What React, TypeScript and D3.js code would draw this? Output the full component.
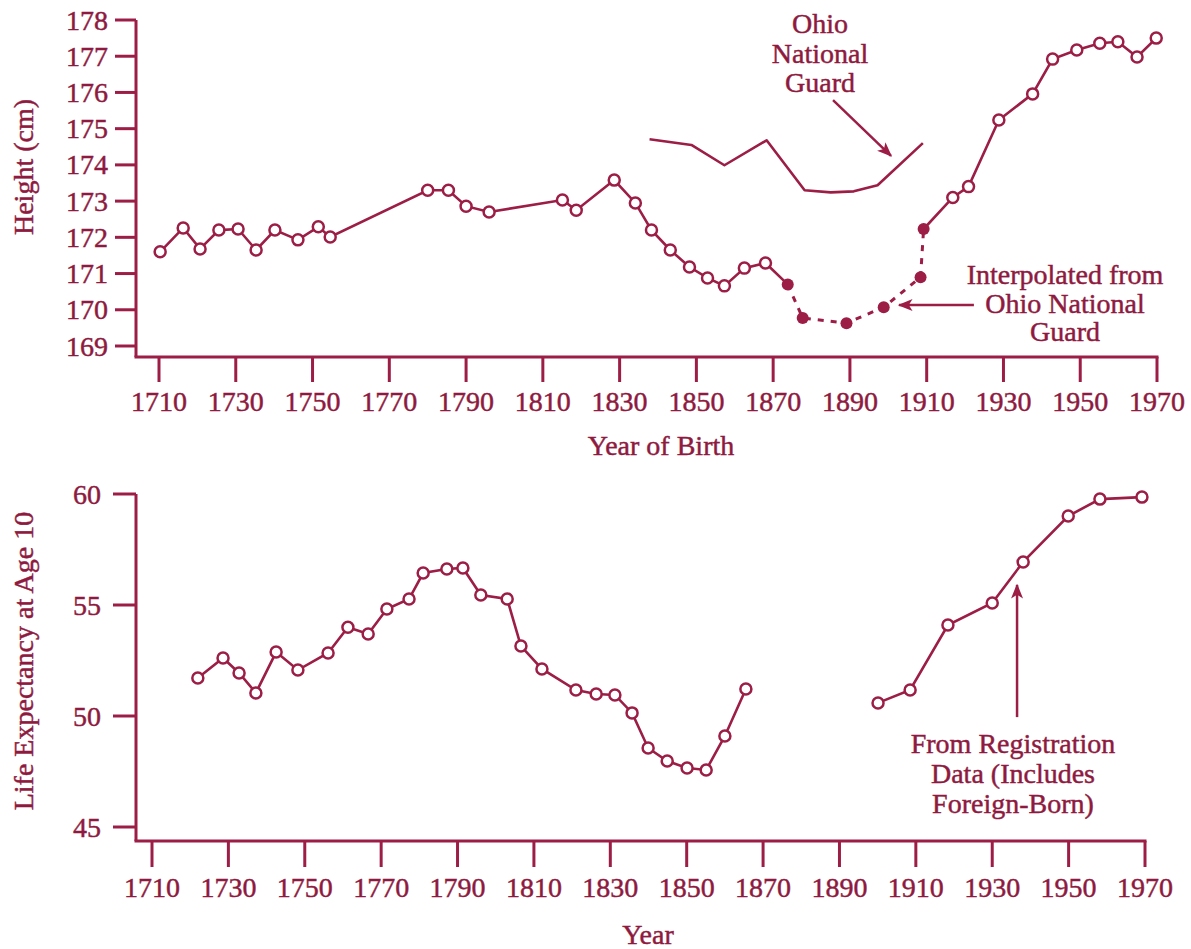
import React from "react";
import * as d3 from "d3";

// ---------- Data ----------
const yearTicks = [1710, 1730, 1750, 1770, 1790, 1810, 1830, 1850, 1870, 1890, 1910, 1930, 1950, 1970];
const heightTicks = [169, 170, 171, 172, 173, 174, 175, 176, 177, 178];
const lifeTicks = [45, 50, 55, 60];

// Height, observed (open circles), before 1870
const heightYearsA = [1710.3, 1716.3, 1720.7, 1725.6, 1730.6, 1735.3, 1740.2, 1746.2, 1751.5, 1754.6, 1780, 1785.4, 1790, 1796, 1815.1, 1818.7, 1828.6, 1834.1, 1838.3, 1843.2, 1848.2, 1852.9, 1857.3, 1862.5, 1868];
const heightValuesA = [171.6, 172.26, 171.68, 172.2, 172.23, 171.65, 172.2, 171.93, 172.29, 172.01, 173.3, 173.3, 172.86, 172.7, 173.03, 172.75, 173.58, 172.95, 172.2, 171.65, 171.18, 170.88, 170.66, 171.15, 171.29];

// Interpolated from Ohio National Guard (filled dots, dashed)
const interpYears = [1873.8, 1877.7, 1889.1, 1898.8, 1908.4, 1909.2];
const interpValues = [170.7, 169.77, 169.63, 170.07, 170.9, 172.23];

// Height, observed (open circles), after 1910
const heightYearsB = [1916.8, 1920.9, 1928.8, 1937.6, 1942.8, 1949.1, 1955.1, 1959.8, 1964.8, 1969.8];
const heightValuesB = [173.1, 173.4, 175.24, 175.96, 176.92, 177.17, 177.36, 177.4, 176.98, 177.5];

// Ohio National Guard
const ohioYears = [1837.8, 1848.7, 1857.3, 1868.3, 1878.2, 1885, 1891, 1897.2, 1909];
const ohioValues = [174.71, 174.55, 173.99, 174.68, 173.3, 173.24, 173.27, 173.44, 174.6];

// Life expectancy at age 10
const lifeYearsA = [1722, 1728.6, 1732.8, 1737.2, 1742.5, 1748.2, 1756.1, 1761.3, 1766.6, 1771.5, 1777.3, 1781, 1787.2, 1791.4, 1796.1, 1803, 1806.6, 1812.1, 1821, 1826.3, 1831.2, 1835.7, 1839.9, 1844.9, 1850.1, 1855.1, 1860, 1865.5];
const lifeValuesA = [51.71, 52.61, 51.94, 51.04, 52.88, 52.07, 52.84, 54.0, 53.69, 54.82, 55.27, 56.44, 56.62, 56.67, 55.45, 55.27, 53.15, 52.12, 51.17, 50.99, 50.95, 50.14, 48.56, 47.97, 47.66, 47.57, 49.1, 51.22];
const lifeYearsB = [1900.1, 1908.5, 1918.4, 1930, 1938.1, 1949.9, 1958.2, 1969.2];
const lifeValuesB = [50.59, 51.17, 54.1, 55.09, 56.94, 59.01, 59.77, 59.86];

const ohioLabel = ["Ohio", "National", "Guard"];
const interpLabel = ["Interpolated from", "Ohio National", "Guard"];
const regLabel = ["From Registration", "Data (Includes", "Foreign-Born)"];

// ---------- Style ----------
const COLOR = "#9c1d46";
const TEXT = "#8e1a40";
const FONT = "'Liberation Serif', 'Times New Roman', serif";

type P = [number, number];
const zip = (xs: number[], ys: number[]): P[] => xs.map((x, i) => [x, ys[i]]);

const T = (props: any) => (
  <text fontSize={28} fill={TEXT} stroke={TEXT} strokeWidth={0.45} {...props} />
);

export default function App() {
  const xTop = d3.scaleLinear().domain([1710, 1970]).range([159, 1157]);
  const yTop = d3.scaleLinear().domain([169, 178]).range([346, 20]);
  const xBot = d3.scaleLinear().domain([1710, 1970]).range([152, 1145]);
  const yBot = d3.scaleLinear().domain([45, 60]).range([827, 494]);

  const lineTop = d3.line<P>().x((d) => xTop(d[0])).y((d) => yTop(d[1]));
  const lineBot = d3.line<P>().x((d) => xBot(d[0])).y((d) => yBot(d[1]));

  const hA = zip(heightYearsA, heightValuesA);
  const hI = zip(interpYears, interpValues);
  const hB = zip(heightYearsB, heightValuesB);
  const ohio = zip(ohioYears, ohioValues);
  const lA = zip(lifeYearsA, lifeValuesA);
  const lB = zip(lifeYearsB, lifeValuesB);

  const topAxisY = 357;
  const botAxisY = 841;
  const axisX = 136;

  const r = 5.5;

  return (
    <svg
      width={1191}
      height={949}
      style={{ position: "absolute", left: 0, top: 0, background: "#fff" }}
      fontFamily={FONT}
    >
      <defs>
        <marker id="ah" viewBox="0 0 10 10" refX="9" refY="5" markerWidth="6" markerHeight="6" orient="auto-start-reverse" markerUnits="strokeWidth">
          <path d="M0,1 L10,5 L0,9 L2.5,5 z" fill={COLOR} />
        </marker>
      </defs>

      {/* ===== TOP CHART ===== */}
      <g>
        <line x1={axisX} x2={axisX} y1={yTop(178)} y2={topAxisY} stroke={COLOR} strokeWidth={3} />
        <line x1={axisX - 1.5} x2={xTop(1970) + 1.5} y1={topAxisY} y2={topAxisY} stroke={COLOR} strokeWidth={3} />
        {heightTicks.map((t) => (
          <g key={t}>
            <line x1={115} x2={axisX} y1={yTop(t)} y2={yTop(t)} stroke={COLOR} strokeWidth={3} />
            <T x={108} y={yTop(t)} dy="0.34em" textAnchor="end">{t}</T>
          </g>
        ))}
        {yearTicks.map((t) => (
          <g key={t}>
            <line x1={xTop(t)} x2={xTop(t)} y1={topAxisY} y2={382} stroke={COLOR} strokeWidth={3} />
            <T x={xTop(t)} y={411} textAnchor="middle">{t}</T>
          </g>
        ))}
        <T x={661} y={455} textAnchor="middle">Year of Birth</T>
        <T transform={`translate(33,167) rotate(-90)`} textAnchor="middle">Height (cm)</T>

        <path d={lineTop(ohio) || ""} fill="none" stroke={COLOR} strokeWidth={2.6} strokeLinejoin="round" />

        <path d={lineTop([...hA, hI[0]]) || ""} fill="none" stroke={COLOR} strokeWidth={2.6} />
        <path d={lineTop(hI) || ""} fill="none" stroke={COLOR} strokeWidth={3} strokeDasharray="6,7" />
        <path d={lineTop([hI[hI.length - 1], ...hB]) || ""} fill="none" stroke={COLOR} strokeWidth={2.6} />

        {hA.concat(hB).map((d, i) => (
          <circle key={i} cx={xTop(d[0])} cy={yTop(d[1])} r={r} fill="#fff" stroke={COLOR} strokeWidth={2.5} />
        ))}
        {hI.map((d, i) => (
          <circle key={i} cx={xTop(d[0])} cy={yTop(d[1])} r={6} fill={COLOR} />
        ))}

        {ohioLabel.map((s, i) => (
          <T key={i} x={xTop(1882.2)} y={33 + i * 29.5} textAnchor="middle">{s}</T>
        ))}
        <line x1={xTop(1885.6)} y1={yTop(175.79)} x2={xTop(1900.7)} y2={yTop(174.25)} stroke={COLOR} strokeWidth={2.5} markerEnd="url(#ah)" />

        {interpLabel.map((s, i) => (
          <T key={i} x={1065} y={284 + i * 28.5} textAnchor="middle">{s}</T>
        ))}
        <line x1={xTop(1922.3)} y1={yTop(170.13)} x2={xTop(1902.8)} y2={yTop(170.13)} stroke={COLOR} strokeWidth={2.5} markerEnd="url(#ah)" />
      </g>

      {/* ===== BOTTOM CHART ===== */}
      <g>
        <line x1={axisX} x2={axisX} y1={yBot(60)} y2={botAxisY} stroke={COLOR} strokeWidth={3} />
        <line x1={axisX - 1.5} x2={xBot(1970) + 1.5} y1={botAxisY} y2={botAxisY} stroke={COLOR} strokeWidth={3} />
        {lifeTicks.map((t) => (
          <g key={t}>
            <line x1={113} x2={axisX} y1={yBot(t)} y2={yBot(t)} stroke={COLOR} strokeWidth={3} />
            <T x={101} y={yBot(t)} dy="0.34em" textAnchor="end">{t}</T>
          </g>
        ))}
        {yearTicks.map((t) => (
          <g key={t}>
            <line x1={xBot(t)} x2={xBot(t)} y1={botAxisY} y2={867} stroke={COLOR} strokeWidth={3} />
            <T x={xBot(t)} y={897} textAnchor="middle">{t}</T>
          </g>
        ))}
        <T x={648} y={944} textAnchor="middle">Year</T>
        <T transform={`translate(33,661) rotate(-90)`} textAnchor="middle">Life Expectancy at Age 10</T>

        <path d={lineBot(lA) || ""} fill="none" stroke={COLOR} strokeWidth={2.6} />
        <path d={lineBot(lB) || ""} fill="none" stroke={COLOR} strokeWidth={2.6} />
        {lA.concat(lB).map((d, i) => (
          <circle key={i} cx={xBot(d[0])} cy={yBot(d[1])} r={r} fill="#fff" stroke={COLOR} strokeWidth={2.5} />
        ))}

        {regLabel.map((s, i) => (
          <T key={i} x={1013} y={753 + i * 30} textAnchor="middle">{s}</T>
        ))}
        <line x1={xBot(1936.5)} y1={yBot(49.95)} x2={xBot(1936.5)} y2={yBot(55.9)} stroke={COLOR} strokeWidth={2.5} markerEnd="url(#ah)" />
      </g>
    </svg>
  );
}
